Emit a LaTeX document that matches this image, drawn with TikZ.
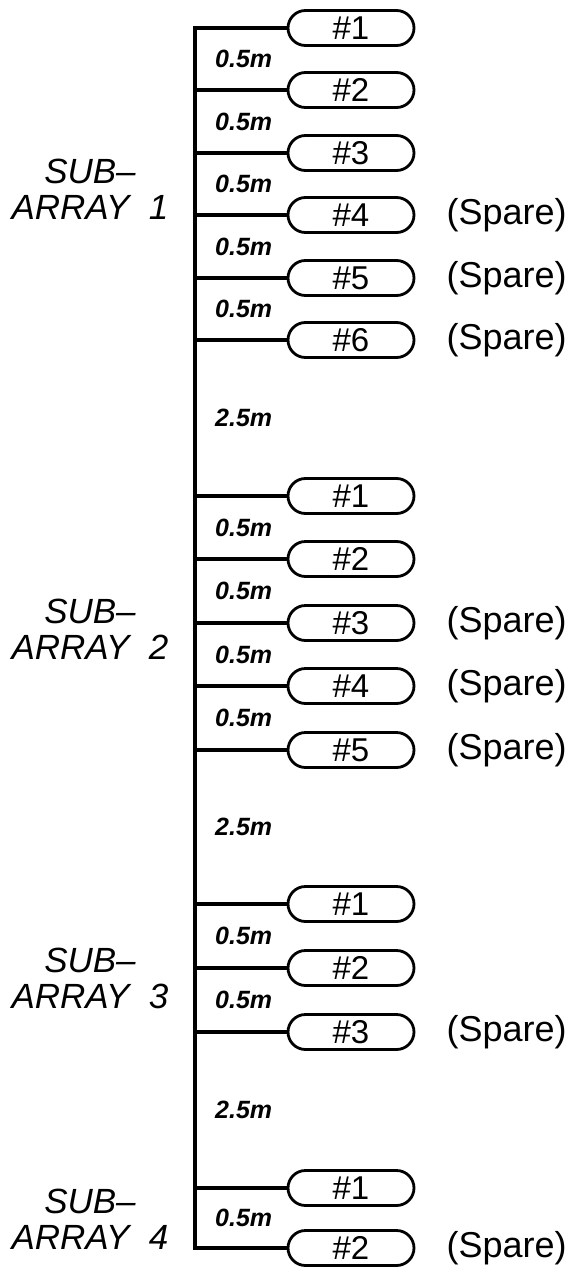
\documentclass[tikz,border=0pt]{standalone}
\usepackage{fontspec}
\setmainfont{Liberation Sans}
\usetikzlibrary{shapes.misc,positioning}

\begin{document}
\begin{tikzpicture}[x=1pt,y=-1pt,
    sensor/.style={draw,rounded rectangle,line width=2.8pt,minimum width=126pt,
      minimum height=35pt,inner sep=0pt,font=\fontsize{33}{33}\selectfont},
    spare/.style={inner sep=0pt,font=\fontsize{36}{36}\selectfont},
    gap/.style={anchor=west,inner sep=0pt,font=\fontsize{25}{25}\selectfont\bfseries\itshape},
    subarr/.style={align=center,inner sep=0pt,font=\fontsize{35}{36}\selectfont\itshape},
    wire/.style={line width=3.2pt,line join=miter}]
   \useasboundingbox (0,0) rectangle (573,1271);
   \coordinate (trunk) at (195,0);
   % sub-array 1
   \node[sensor] (c11) at (351,28) {\#1};
   \node[sensor] (c12) at (351,90) {\#2};
   \node[sensor] (c13) at (351,153) {\#3};
   \node[sensor] (c14) at (351,215) {\#4};
   \node[sensor] (c15) at (351,278) {\#5};
   \node[sensor] (c16) at (351,340) {\#6};
   \node[spare,right=31pt of c14] (s14) {(Spare)};
   \node[spare,right=31pt of c15] (s15) {(Spare)};
   \node[spare,right=31pt of c16] (s16) {(Spare)};
   \node[gap] (g11) at (215,59) {0.5m};
   \node[gap] (g12) at (215,121.5) {0.5m};
   \node[gap] (g13) at (215,184) {0.5m};
   \node[gap] (g14) at (215,246.5) {0.5m};
   \node[gap] (g15) at (215,309) {0.5m};
   \node[gap] (g1) at (215,418) {2.5m};
   \node[subarr] (sa1) at (90,189) {SUB--\\ARRAY~~1};
   % sub-array 2
   \node[sensor] (c21) at (351,496) {\#1};
   \node[sensor] (c22) at (351,559) {\#2};
   \node[sensor] (c23) at (351,623) {\#3};
   \node[sensor] (c24) at (351,686) {\#4};
   \node[sensor] (c25) at (351,750) {\#5};
   \node[spare,right=31pt of c23] (s23) {(Spare)};
   \node[spare,right=31pt of c24] (s24) {(Spare)};
   \node[spare,right=31pt of c25] (s25) {(Spare)};
   \node[gap] (g21) at (215,527.5) {0.5m};
   \node[gap] (g22) at (215,591) {0.5m};
   \node[gap] (g23) at (215,654.5) {0.5m};
   \node[gap] (g24) at (215,718) {0.5m};
   \node[gap] (g2) at (215,827) {2.5m};
   \node[subarr] (sa2) at (90,629) {SUB--\\ARRAY~~2};
   % sub-array 3
   \node[sensor] (c31) at (351,904) {\#1};
   \node[sensor] (c32) at (351,968) {\#2};
   \node[sensor] (c33) at (351,1032) {\#3};
   \node[spare,right=31pt of c33] (s33) {(Spare)};
   \node[gap] (g31) at (215,936) {0.5m};
   \node[gap] (g32) at (215,1000) {0.5m};
   \node[gap] (g3) at (215,1110) {2.5m};
   \node[subarr] (sa3) at (90,978) {SUB--\\ARRAY~~3};
   % sub-array 4
   \node[sensor] (c41) at (351,1188) {\#1};
   \node[sensor] (c42) at (351,1248) {\#2};
   \node[spare,right=31pt of c42] (s42) {(Spare)};
   \node[gap] (g41) at (215,1218) {0.5m};
   \node[subarr] (sa4) at (90,1219) {SUB--\\ARRAY~~4};
   % cable
   \draw[wire] (c11.west) -- (c11.west -| trunk) -- (c42.west -| trunk) -- (c42.west);
   \foreach \c in {c12,c13,c14,c15,c16,c21,c22,c23,c24,c25,c31,c32,c33,c41}
     \draw[wire] (\c.west -| trunk) -- (\c.west);
\end{tikzpicture}
\end{document}
